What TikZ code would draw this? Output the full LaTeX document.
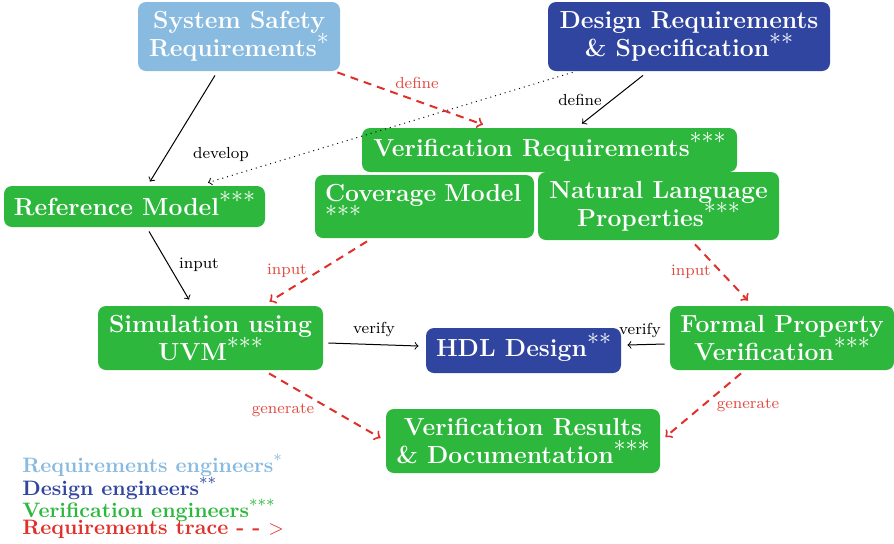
\documentclass[tikz,border=0pt]{standalone}
\usetikzlibrary{calc}
\definecolor{lblue}{HTML}{89BBE0}
\definecolor{dblue}{HTML}{3045A0}
\definecolor{vgreen}{HTML}{2DB83D}
\definecolor{tred}{HTML}{E0302A}
\definecolor{lred}{HTML}{E04A40}
\newcommand{\bst}[1]{\raisebox{0.5em}[0pt][0pt]{$#1$}}
\newcommand{\lst}[1]{\raisebox{0.5em}[0pt][0pt]{\footnotesize$#1$}}
\begin{document}
\begin{tikzpicture}[x=0.5pt,y=-0.5pt,
  box/.style={rounded corners=4pt, inner sep=0pt, text=white, align=center,
    font=\fontsize{12.35}{14}\selectfont\bfseries},
  lbl/.style={font=\fontsize{8}{9.6}\selectfont, inner sep=0pt},
  rlbl/.style={lbl, text=lred},
  blk/.style={->, black, line width=0.5pt},
  rtrace/.style={->, tred, line width=1pt, dash pattern=on 4pt off 3pt},
  dots/.style={->, black, line width=0.5pt, dotted},
  leg/.style={anchor=base west, inner sep=0pt, font=\fontsize{10.45}{12}\selectfont\bfseries}]
\useasboundingbox (0,0) rectangle (894,543);

% nodes
\node[box, fill=lblue, minimum width=101pt, minimum height=34.5pt] (ssr) at (239,36.5) {System Safety\\Requirements\bst{{\ast}}};
\node[box, fill=dblue, minimum width=141pt, minimum height=34.5pt] (drs) at (689,36.5) {Design Requirements\\\& Specification\bst{{\ast}{\ast}}};
\node[box, fill=vgreen, minimum width=187.5pt, minimum height=22pt] (vr) at (549.5,150) {Verification Requirements\bst{{\ast}{\ast}{\ast}}};
\node[box, fill=vgreen, minimum width=130.5pt, minimum height=20.5pt] (rm) at (134.5,206.5) {Reference Model\bst{{\ast}{\ast}{\ast}}};
\node[box, fill=vgreen, minimum width=109.5pt, minimum height=31.5pt, text width=99.5pt, inner xsep=5pt, align=left] (cm) at (424.5,206.5) {Coverage Model\\\bst{{\ast}{\ast}{\ast}}};
\node[box, fill=vgreen, minimum width=120.5pt, minimum height=34pt] (nlp) at (658.5,206) {Natural Language\\Properties\bst{{\ast}{\ast}{\ast}}};
\node[box, fill=vgreen, minimum width=112.5pt, minimum height=32pt] (sim) at (210.5,338) {Simulation using\\UVM\bst{{\ast}{\ast}{\ast}}};
\node[box, fill=dblue, minimum width=97.5pt, minimum height=22.5pt] (hdl) at (523.5,350.5) {HDL Design\bst{{\ast}{\ast}}};
\node[box, fill=vgreen, minimum width=112pt, minimum height=32pt] (fpv) at (782,338) {Formal Property\\Verification\bst{{\ast}{\ast}{\ast}}};
\node[box, fill=vgreen, minimum width=137pt, minimum height=32pt] (vrd) at (523,441) {Verification Results\\\& Documentation\bst{{\ast}{\ast}{\ast}}};

% connectors
\draw[blk] ($(ssr.south)+(-24,4)$) -- ($(rm.north)+(15.5,-4)$);
\draw[rtrace] ($(ssr.south east)+(-3,1)$) -- ($(vr.north)+(-66.5,-3)$);
\draw[blk] ($(drs.south)+(-46,4)$) -- ($(vr.north)+(32.5,-4)$);
\draw[dots] ($(drs.south west)+(25,1)$) -- ($(rm.north)+(73.5,-3)$);
\draw[blk] ($(rm.south)+(14.5,4)$) -- ($(sim.north)+(-21.5,-6)$);
\draw[rtrace] ($(cm.south)+(-57.5,3)$) -- ($(sim.north)+(59,-4)$);
\draw[rtrace] ($(nlp.south)+(36.5,4)$) -- ($(fpv.north)+(-34,-5)$);
\draw[blk] ($(sim.east)+(5,5)$) -- ($(hdl.west)+(-7,-4.5)$);
\draw[blk] ($(fpv.west)+(-5,6)$) -- ($(hdl.east)+(6,-5.5)$);
\draw[rtrace] ($(sim.south)+(58.5,3)$) -- ($(vrd.west)+(-5,-3)$);
\draw[rtrace] ($(fpv.south)+(-41,3)$) -- ($(vrd.east)+(5,-4)$);

% labels
\node[lbl] (l1) at (221,154) {develop};
\node[rlbl] (l2) at (417,83) {define};
\node[lbl] (l3) at (580,100) {define};
\node[lbl] (l4) at (199,265) {input};
\node[rlbl] (l5) at (287,271) {input};
\node[rlbl] (l6) at (691,272) {input};
\node[lbl] (l7) at (374,329) {verify};
\node[lbl] (l8) at (640,330) {verify};
\node[rlbl] (l9) at (283,410) {generate};
\node[rlbl] (l10) at (748,405) {generate};

% legend
\node[leg, text=lblue] (g1) at (22,472) {Requirements engineers\lst{{\ast}}};
\node[leg, text=dblue] (g2) at (22,495) {Design engineers\lst{{\ast}{\ast}}};
\node[leg, text=vgreen] (g3) at (22,517) {Verification engineers\lst{{\ast}{\ast}{\ast}}};
\node[leg, text=tred] (g4) at (22,534) {Requirements trace - - $>$};
\end{tikzpicture}
\end{document}
